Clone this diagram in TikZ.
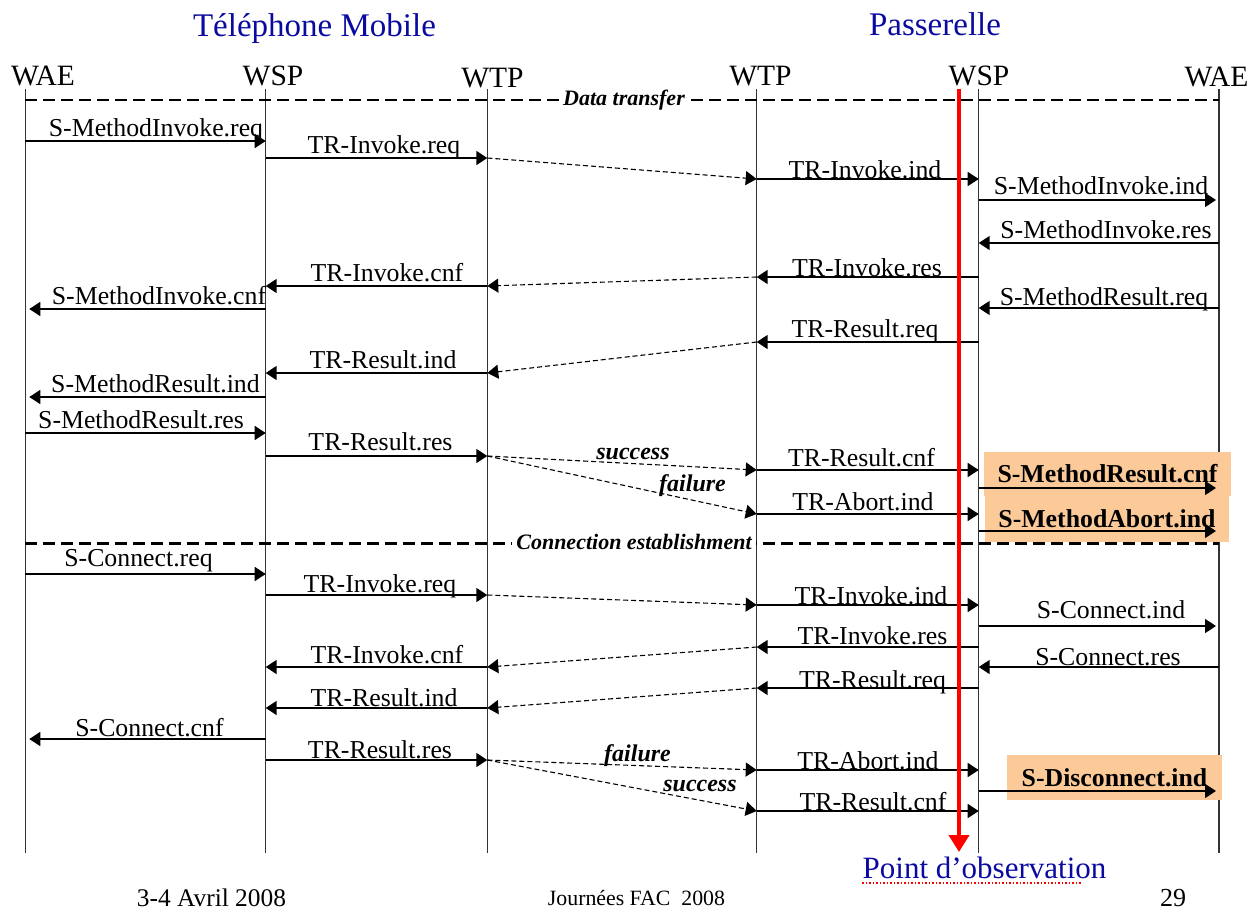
\documentclass[tikz,border=0pt]{standalone}
\usepackage{fontspec}
\setmainfont{Liberation Serif}
\usepackage{tikz}
\usetikzlibrary{arrows.meta,calc}
\definecolor{titleblue}{RGB}{10,10,160}
\definecolor{peach}{RGB}{251,202,152}

\begin{document}
\begin{tikzpicture}[x=1pt,y=-1pt,
  lifeline/.style={draw=black!80, line width=1.3pt},
  msg/.style={line width=1.6pt, -{Triangle[length=11pt,width=14pt]}},
  hop/.style={line width=1.1pt, dash pattern=on 5pt off 3pt, -{Triangle[length=11pt,width=14pt]}},
  phase/.style={line width=2.8pt, dash pattern=on 12pt off 6pt},
  obs/.style={draw=red, line width=4pt, -{Triangle[length=17pt,width=20pt]}},
  lbl/.style={anchor=base, inner sep=0pt, font=\fontsize{25.8}{28}\selectfont},
  layer/.style={anchor=base, inner sep=0pt, font=\fontsize{29.5}{32}\selectfont},
  side/.style={anchor=base, inner sep=0pt, text=titleblue, font=\fontsize{33}{36}\selectfont},
  phaselbl/.style={fill=white, inner xsep=4pt, inner ysep=1pt, font=\fontsize{22}{24}\selectfont\bfseries\itshape},
  outcome/.style={anchor=base, inner sep=0pt, font=\fontsize{24}{26}\selectfont\bfseries\itshape},
  hibox/.style={fill=peach, inner sep=0pt, font=\fontsize{25.8}{28}\selectfont\bfseries},
  foot/.style={anchor=base, inner sep=0pt}]
\useasboundingbox (0,0) rectangle (1260,913);

% titles and layer names
\node[side] (mobile) at (314.5,36) {Téléphone Mobile};
\node[side] (gateway) at (935,35) {Passerelle};
\node[layer] (wae1n) at (43,85) {WAE};
\node[layer] (wsp1n) at (273,85) {WSP};
\node[layer] (wtp1n) at (492.5,87) {WTP};
\node[layer] (wtp2n) at (760.5,85) {WTP};
\node[layer] (wsp2n) at (979,85) {WSP};
\node[layer] (wae2n) at (1216.5,86) {WAE};

% lifelines
\coordinate (wae1) at (25.3,89);  \coordinate (wae1e) at (25.3,853);
\coordinate (wsp1) at (265.7,89); \coordinate (wsp1e) at (265.7,853);
\coordinate (wtp1) at (487.3,89); \coordinate (wtp1e) at (487.3,853);
\coordinate (wtp2) at (756.7,89); \coordinate (wtp2e) at (756.7,853);
\coordinate (wsp2) at (978.7,89); \coordinate (wsp2e) at (978.7,853);
\coordinate (wae2) at (1219,89);  \coordinate (wae2e) at (1219,853);
\draw[lifeline] (wae1) -- (wae1e);
\draw[lifeline] (wsp1) -- (wsp1e);
\draw[lifeline] (wtp1) -- (wtp1e);
\draw[lifeline] (wtp2) -- (wtp2e);
\draw[lifeline] (wsp2) -- (wsp2e);
\draw[lifeline] (wae2) -- (wae2e);

% phases
\draw[phase] (wae1 |- 0,100) -- (wae2 |- 0,100);
\node[phaselbl] (data) at (624,100) {Data transfer};
\draw[phase] (wae1 |- 0,543.5) -- (wae2 |- 0,543.5);
\node[phaselbl] (conn) at (634,542) {Connection establishment};

% highlighted primitives
\node[hibox, minimum width=247pt, minimum height=44pt] (mrcnf) at (1107.5,474) {S-MethodResult.cnf};
\node[hibox, minimum width=244pt, minimum height=46pt] (maind) at (1107,519) {S-MethodAbort.ind};
\node[hibox, minimum width=215pt, minimum height=45pt] (sdind) at (1114.5,777.5) {S-Disconnect.ind};

% data transfer
\draw[msg] (wae1 |- 0,141) -- (wsp1 |- 0,141);
\node[lbl] (mireq) at (156,136) {S-MethodInvoke.req};
\draw[msg] (wsp1 |- 0,158) -- (wtp1 |- 0,158);
\node[lbl] (tireq) at (384,153) {TR-Invoke.req};
\draw[hop] (wtp1 |- 0,158) -- (wtp2 |- 0,179);
\draw[msg] (wtp2 |- 0,179) -- (wsp2 |- 0,179);
\node[lbl] (tiind) at (865,178) {TR-Invoke.ind};
\draw[msg, shorten >=3pt] (wsp2 |- 0,200) -- (wae2 |- 0,200);
\node[lbl] (miind) at (1101,194) {S-MethodInvoke.ind};
\draw[msg] (wae2 |- 0,243) -- (wsp2 |- 0,243);
\node[lbl] (mires) at (1106,238) {S-MethodInvoke.res};
\draw[msg] (wsp2 |- 0,277) -- (wtp2 |- 0,277);
\node[lbl] (tires) at (867,276) {TR-Invoke.res};
\draw[hop] (wtp2 |- 0,277) -- (wtp1 |- 0,286);
\draw[msg] (wtp1 |- 0,286) -- (wsp1 |- 0,286);
\node[lbl] (ticnf) at (387,281.5) {TR-Invoke.cnf};
\draw[msg, shorten >=4pt] (wsp1 |- 0,309) -- (wae1 |- 0,309);
\node[lbl] (micnf) at (159,304) {S-MethodInvoke.cnf};
\draw[msg] (wae2 |- 0,308) -- (wsp2 |- 0,308);
\node[lbl] (mrreq) at (1104,305) {S-MethodResult.req};
\draw[msg] (wsp2 |- 0,342) -- (wtp2 |- 0,342);
\node[lbl] (trreq) at (865,337) {TR-Result.req};
\draw[hop] (wtp2 |- 0,342) -- (wtp1 |- 0,373);
\draw[msg] (wtp1 |- 0,373) -- (wsp1 |- 0,373);
\node[lbl] (trind) at (383,368) {TR-Result.ind};
\draw[msg, shorten >=4pt] (wsp1 |- 0,397) -- (wae1 |- 0,397);
\node[lbl] (mrind) at (155.5,392.5) {S-MethodResult.ind};
\draw[msg] (wae1 |- 0,433) -- (wsp1 |- 0,433);
\node[lbl] (mrres) at (141,428) {S-MethodResult.res};
\draw[msg] (wsp1 |- 0,456) -- (wtp1 |- 0,456);
\node[lbl] (trres) at (380.5,450) {TR-Result.res};
\draw[hop] (wtp1 |- 0,456) -- (wtp2 |- 0,470);
\node[outcome] (ok1) at (633,459) {success};
\draw[hop] (wtp1 |- 0,456) -- (wtp2 |- 0,514);
\node[outcome] (ko1) at (692.5,491.5) {failure};
\draw[msg] (wtp2 |- 0,470) -- (wsp2 |- 0,470);
\node[lbl] (trcnf) at (861.5,466.5) {TR-Result.cnf};
\draw[msg, shorten >=3pt] (wsp2 |- 0,488) -- (wae2 |- 0,488);
\draw[msg] (wtp2 |- 0,514) -- (wsp2 |- 0,514);
\node[lbl] (taind) at (863,510.5) {TR-Abort.ind};
\draw[msg, shorten >=3pt] (wsp2 |- 0,531) -- (wae2 |- 0,531);

% connection establishment
\draw[msg] (wae1 |- 0,574) -- (wsp1 |- 0,574);
\node[lbl] (screq) at (138.5,566.5) {S-Connect.req};
\draw[msg] (wsp1 |- 0,595) -- (wtp1 |- 0,595);
\node[lbl] (tireqb) at (380,592.5) {TR-Invoke.req};
\draw[hop] (wtp1 |- 0,595) -- (wtp2 |- 0,605);
\draw[msg] (wtp2 |- 0,605) -- (wsp2 |- 0,605);
\node[lbl] (tiindb) at (871,604.5) {TR-Invoke.ind};
\draw[msg, shorten >=3pt] (wsp2 |- 0,626) -- (wae2 |- 0,626);
\node[lbl] (scind) at (1111,618.5) {S-Connect.ind};
\draw[msg] (wsp2 |- 0,647) -- (wtp2 |- 0,647);
\node[lbl] (tiresb) at (872.5,644) {TR-Invoke.res};
\draw[hop] (wtp2 |- 0,647) -- (wtp1 |- 0,667);
\draw[msg] (wtp1 |- 0,667) -- (wsp1 |- 0,667);
\node[lbl] (ticnfb) at (387,663) {TR-Invoke.cnf};
\draw[msg] (wae2 |- 0,667) -- (wsp2 |- 0,667);
\node[lbl] (scres) at (1108,665) {S-Connect.res};
\draw[msg] (wsp2 |- 0,688) -- (wtp2 |- 0,688);
\node[lbl] (trreqb) at (872.5,688) {TR-Result.req};
\draw[hop] (wtp2 |- 0,688) -- (wtp1 |- 0,708);
\draw[msg] (wtp1 |- 0,708) -- (wsp1 |- 0,708);
\node[lbl] (trindb) at (384,706) {TR-Result.ind};
\draw[msg, shorten >=4pt] (wsp1 |- 0,739) -- (wae1 |- 0,739);
\node[lbl] (sccnf) at (149.5,736) {S-Connect.cnf};
\draw[msg] (wsp1 |- 0,760) -- (wtp1 |- 0,760);
\node[lbl] (trresb) at (380,758) {TR-Result.res};
\draw[hop] (wtp1 |- 0,760) -- (wtp2 |- 0,770);
\node[outcome] (ko2) at (637.5,761.5) {failure};
\draw[hop] (wtp1 |- 0,760) -- (wtp2 |- 0,811);
\node[outcome] (ok2) at (700,791.5) {success};
\draw[msg] (wtp2 |- 0,770) -- (wsp2 |- 0,770);
\node[lbl] (taindb) at (868,769) {TR-Abort.ind};
\draw[msg, shorten >=3pt] (wsp2 |- 0,791) -- (wae2 |- 0,791);
\draw[msg] (wtp2 |- 0,811) -- (wsp2 |- 0,811);
\node[lbl] (trcnfb) at (873,810.5) {TR-Result.cnf};

% observation point
\coordinate (obs) at (959,89);
\coordinate (obse) at (959,852);
\draw[obs] (obs) -- (obse);
\node[side, font=\fontsize{31}{34}\selectfont] (pto) at (984.5,878) {Point d’observation};
\draw[red, line width=1.5pt, dotted] ([yshift=-5pt]pto.base west) -- ([xshift=-25pt,yshift=-5pt]pto.base east);

% footer
\node[foot, font=\fontsize{25.4}{28}\selectfont] (date) at (211.5,906) {3-4 Avril 2008};
\node[foot, font=\fontsize{21.8}{24}\selectfont] (event) at (636.5,905) {Journées FAC\ \ 2008};
\node[foot, font=\fontsize{26}{28}\selectfont] (page) at (1173,906) {29};
\end{tikzpicture}
\end{document}
